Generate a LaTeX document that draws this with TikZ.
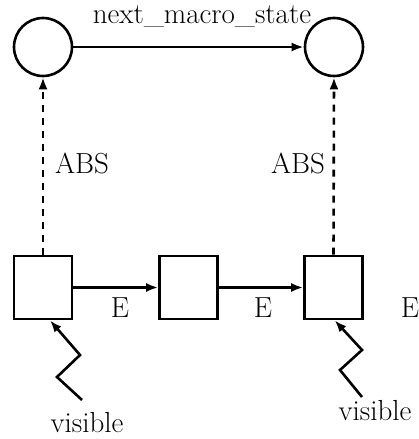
\documentclass[tikz,border=0pt]{standalone}
\usetikzlibrary{arrows.meta}
\begin{document}
\begin{tikzpicture}[x=1pt,y=-1pt,
  line width=2.6pt,
  state/.style={draw,circle,minimum size=58pt,inner sep=0pt},
  micro/.style={draw,rectangle,minimum width=58pt,minimum height=63pt,inner sep=0pt},
  lbl/.style={font=\fontsize{29}{34}\selectfont,inner sep=0pt},
  arr/.style={-{Latex[length=12pt,width=9pt]}},
  abs/.style={arr,dash pattern=on 7pt off 6pt}]
\useasboundingbox (0,0) rectangle (418,439);

% abstract states
\node[state] (c1) at (43,47) {};
\node[state] (c2) at (334,47) {};

% concrete states
\node[micro] (s1) at (43,287.5) {};
\node[micro] (s2) at (188.5,287.5) {};
\node[micro] (s3) at (333.5,287.5) {};

% abstract transition
\draw[arr] (c1) -- (c2);
\node[lbl] (nms) at (202,17) {next\_macro\_state};

% abstraction mappings
\draw[abs] (s1.north) -- (c1.south);
\draw[abs] (s3.north) -- (c2.south);
\node[lbl] (abs1) at (82,163) {ABS};
\node[lbl] (abs2) at (298,163) {ABS};

% concrete transitions
\draw[arr] (s1) -- (s2);
\draw[arr] (s2) -- (s3);
\node[lbl] (e1) at (120,308) {E};
\node[lbl] (e2) at (263,308) {E};
\node[lbl] (e3) at (410,308) {E};

% visibility markers
\coordinate (v1a) at (82,400);
\coordinate (v1b) at (57,377);
\coordinate (v1c) at (80,355);
\draw[arr] (v1a) -- (v1b) -- (v1c) -- (s1.-78);
\coordinate (v2a) at (362,397);
\coordinate (v2b) at (340,370);
\coordinate (v2c) at (362,350);
\draw[arr] (v2a) -- (v2b) -- (v2c) -- (s3.-88);
\node[lbl] (vis1) at (87,423) {visible};
\node[lbl] (vis2) at (375,411) {visible};
\end{tikzpicture}
\end{document}
